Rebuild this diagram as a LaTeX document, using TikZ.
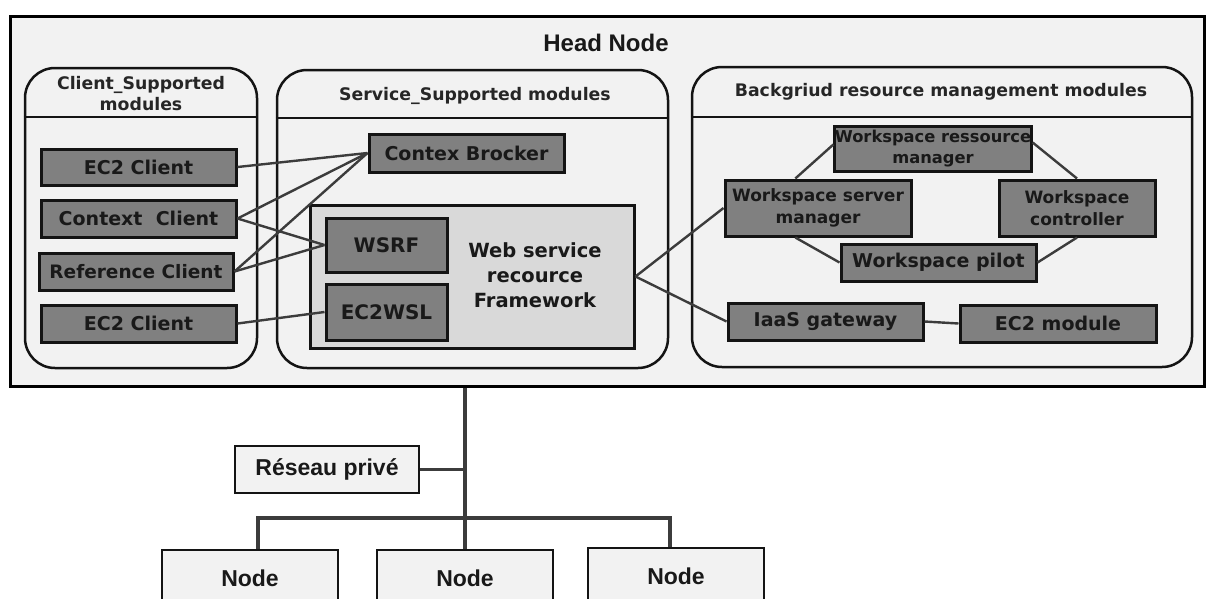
\documentclass[tikz,border=0pt]{standalone}
\usepackage{fontspec}
\usetikzlibrary{calc}
\newfontfamily\vfont{DejaVu Sans}
\newfontfamily\afont{Liberation Sans}
\definecolor{panelbg}{RGB}{242,242,242}
\definecolor{boxgray}{RGB}{128,128,128}
\definecolor{fwgray}{RGB}{217,217,217}
\definecolor{edge}{RGB}{20,20,20}
\definecolor{wire}{RGB}{60,60,60}
\definecolor{titletext}{RGB}{38,38,38}

\tikzset{
  headbox/.style={draw=black, line width=3pt, fill=panelbg, inner sep=0pt},
  panel/.style={draw=edge, line width=2.5pt, rounded corners=30pt, fill=panelbg, inner sep=0pt},
  divider/.style={draw=edge, line width=2pt},
  ptitle/.style={font=\vfont\bfseries\fontsize{17.3}{21}\selectfont, text=titletext, align=center, inner sep=0pt},
  modbox/.style={draw=edge, line width=3pt, fill=boxgray, inner sep=0pt,
    font=\vfont\bfseries\fontsize{19}{23}\selectfont, text=black!90, align=center},
  wsbox/.style={modbox, font=\vfont\bfseries\fontsize{17}{22}\selectfont},
  fwbox/.style={draw=edge, line width=3pt, fill=fwgray, inner sep=0pt},
  fwtext/.style={font=\vfont\bfseries\fontsize{19.5}{25}\selectfont, text=black!90, align=center, inner sep=0pt},
  lanbox/.style={draw=edge, line width=2.5pt, fill=panelbg, inner sep=0pt,
    font=\afont\bfseries\fontsize{23}{27}\selectfont, text=black!90},
  wire/.style={draw=wire, line width=2.4pt},
  bus/.style={draw=wire, line width=3.6pt},
}

\begin{document}
\begin{tikzpicture}[x=1pt, y=-1pt]
  \clip (0,0) rectangle (1209,598);
  \fill[white] (0,0) rectangle (1209,598);

  % head node frame
  \node[headbox, minimum width=1194, minimum height=370] (head) at (607,201) {};
  \node[font=\afont\bfseries\fontsize{24}{28}\selectfont, text=black!90, inner sep=0pt] (headtitle) at (606,43) {Head Node};

  % the three module groups
  \node[panel, minimum width=232, minimum height=300] (cp) at (141,218) {};
  \node[panel, minimum width=391, minimum height=298] (sp) at (472.5,219) {};
  \node[panel, minimum width=500, minimum height=300] (bp) at (942,217) {};
  \draw[divider] ($(cp.north west)+(0,50)$) -- ($(cp.north east)+(0,50)$);
  \draw[divider] ($(sp.north west)+(0,49)$) -- ($(sp.north east)+(0,49)$);
  \draw[divider] ($(bp.north west)+(0,51)$) -- ($(bp.north east)+(0,51)$);
  \node[ptitle] (ctitle) at (141,94) {Client\_Supported\\modules};
  \node[ptitle] (stitle) at (475,96) {Service\_Supported modules};
  \node[ptitle] (btitle) at (941,92) {Backgriud resource management modules};

  % client side modules
  \node[modbox, minimum width=195, minimum height=36] (ec2a) at (138.5,167) {EC2 Client};
  \node[modbox, minimum width=195, minimum height=37] (ctx) at (138.5,218.5) {Context~ Client};
  \node[modbox, minimum width=194, minimum height=37, font=\vfont\bfseries\fontsize{18.5}{22}\selectfont] (ref) at (136,271.5) {Reference Client};
  \node[modbox, minimum width=195, minimum height=37] (ec2b) at (138.5,323.5) {EC2 Client};

  % service side modules
  \node[modbox, minimum width=195, minimum height=38] (cb) at (466.5,153) {Contex Brocker};
  \node[fwbox, minimum width=324, minimum height=143] (fw) at (472,276.5) {};
  \node[fwtext] (fwlabel) at (535,275) {Web service\\recource\\Framework};
  \node[modbox, minimum width=121, minimum height=54, font=\vfont\bfseries\fontsize{20}{24}\selectfont] (wsrf) at (386.5,245) {WSRF};
  \node[modbox, minimum width=121, minimum height=56, font=\vfont\bfseries\fontsize{20}{24}\selectfont] (ec2wsl) at (386.5,312) {EC2WSL};

  % resource management modules
  \node[wsbox, minimum width=196, minimum height=45, font=\vfont\bfseries\fontsize{16.3}{21}\selectfont] (wrm) at (933,148.5) {Workspace ressource\\manager};
  \node[wsbox, minimum width=186, minimum height=56] (wsm) at (818,208) {Workspace server\\manager};
  \node[wsbox, minimum width=156, minimum height=56] (wc) at (1077,208) {Workspace\\controller};
  \node[modbox, minimum width=195, minimum height=37] (wp) at (938.5,262.5) {Workspace pilot};
  \node[modbox, minimum width=195, minimum height=37] (iaas) at (825.5,321.5) {IaaS gateway};
  \node[modbox, minimum width=196, minimum height=37] (ec2m) at (1058,323.5) {EC2 module};

  % links between modules
  \draw[wire] (ec2a.east) -- (cb.west);
  \draw[wire] (ctx.east) -- (cb.west);
  \draw[wire] (ctx.east) -- (wsrf.west);
  \draw[wire] (ref.east) -- (cb.west);
  \draw[wire] (ref.east) -- (wsrf.west);
  \draw[wire] (ec2b.east) -- (ec2wsl.west);
  \draw[wire] (fw.east) -- (wsm.west);
  \draw[wire] (fw.east) -- (iaas.west);
  \draw[wire] ($(wsm.north west)!0.38!(wsm.north east)$) -- ($(wrm.west)+(0,-4)$);
  \draw[wire] ($(wrm.east)+(0,-6)$) -- (wc.north);
  \draw[wire] (wc.south) -- (wp.east);
  \draw[wire] ($(wsm.south west)!0.38!(wsm.south east)$) -- (wp.west);
  \draw[wire] (iaas.east) -- (ec2m.west);

  % private network and compute nodes
  \node[lanbox, minimum width=184, minimum height=47] (lan) at (327,469.5) {Réseau privé};
  \node[lanbox, minimum width=176, minimum height=56] (n1) at (250,578) {Node};
  \node[lanbox, minimum width=176, minimum height=56] (n2) at (465,578) {Node};
  \node[lanbox, minimum width=176, minimum height=56] (n3) at (676,576) {Node};
  \coordinate (busjoint) at (465,518);

  \draw[bus] (head.south -| n2.north) -- (n2.north);
  \draw[bus] (lan.east) -- (lan.east -| n2.north);
  \draw[bus] ($(n1.north)+(8,0)$) |- (busjoint) -| ($(n3.north)+(-6,0)$);
\end{tikzpicture}
\end{document}
